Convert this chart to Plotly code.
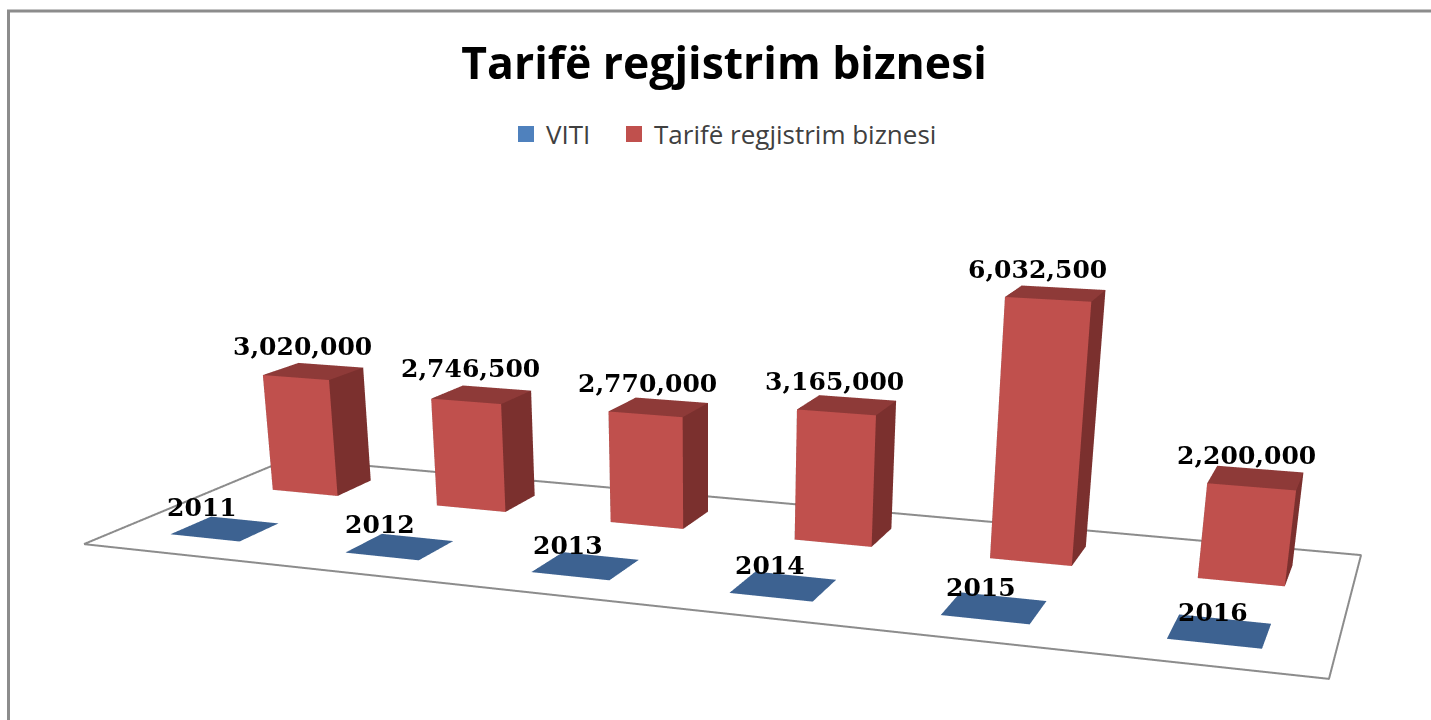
import plotly.graph_objects as go

# ---- data
years = [2011, 2012, 2013, 2014, 2015, 2016]
viti = [2011, 2012, 2013, 2014, 2015, 2016]
tarife = [3020000, 2746500, 2770000, 3165000, 6032500, 2200000]
title_text = "Tarifë regjistrim biznesi"
series_names = ["VITI", "Tarifë regjistrim biznesi"]

# ---- style and layout
ZMAX = 7000000
W, D = 0.40116, 0.37723            # bar width / depth within a category cell
H = 1700                           # tall scene: a longer lens; the page is clipped to the window
RED_FACES = ["#C0504D", "#8E3A38", "#7B302E"]   # front, top, sides
BLUE_FACES = ["#3D6291", "#3D6291", "#3D6291"]
FLOOR = "#8C8C8C"
bar_dx = [-28, -26, -24, -23, -26, -14]
bar_dy = [2, 3, 0, 0, 2, -3]
viti_dx = [-43, -37, -33, -25, -22, -12]
viti_dy = [-4, -4, -6, -6, -7, -10]
LABEL_FONT = dict(family="DejaVu Serif", size=25, color="black", weight="bold")
LEGEND_FONT = dict(family="Open Sans", size=26, color="#404040")


def cuboids(vals, row, cols, name):
    X, Y, Z, I, J, K, C = [], [], [], [], [], [], []
    faces = [((0, 1, 5), 0), ((0, 5, 4), 0), ((4, 5, 6), 1), ((4, 6, 7), 1), ((1, 2, 6), 2), ((1, 6, 5), 2),
             ((2, 3, 7), 2), ((2, 7, 6), 2), ((3, 0, 4), 2), ((3, 4, 7), 2), ((0, 1, 2), 2), ((0, 2, 3), 2)]
    for i, v in enumerate(vals):
        n = len(X)
        x0, x1 = i + .5 - W / 2, i + .5 + W / 2
        y0, y1 = row + .5 - D / 2, row + .5 + D / 2
        for zz in (0, v):
            for xx, yy in ((x0, y0), (x1, y0), (x1, y1), (x0, y1)):
                X.append(xx); Y.append(yy); Z.append(zz)
        for tri, col in faces:
            I.append(n + tri[0]); J.append(n + tri[1]); K.append(n + tri[2]); C.append(cols[col])
    return go.Mesh3d(x=X, y=Y, z=Z, i=I, j=J, k=K, facecolor=C, flatshading=True, showlegend=False,
                     hoverinfo="skip", name=name,
                     lighting=dict(ambient=1, diffuse=0, specular=0, fresnel=0, roughness=1))


fig = go.Figure()
fig.add_trace(cuboids(tarife, 1, RED_FACES, series_names[1]))
fig.add_trace(cuboids(viti, 0, BLUE_FACES, series_names[0]))
n = len(years)
fig.add_trace(go.Scatter3d(x=[0, n, n, 0, 0], y=[0, 0, 2, 2, 0], z=[0, 0, 0, 0, 0], mode="lines",
                           line=dict(color=FLOOR, width=4), showlegend=False, hoverinfo="skip"))
fig.add_trace(go.Scatter3d(x=[None], y=[None], z=[None], mode="markers", name=series_names[0],
                           marker=dict(symbol="square", size=16, color="#4F81BD")))
fig.add_trace(go.Scatter3d(x=[None], y=[None], z=[None], mode="markers", name=series_names[1], legend="legend2",
                           marker=dict(symbol="square", size=16, color="#C0504D")))

ann = []
for i, v in enumerate(tarife):
    ann.append(dict(x=i + .5, y=1.5 + D / 2, z=v, text=f"{v:,}", showarrow=False, font=LABEL_FONT,
                    yanchor="bottom", xshift=bar_dx[i], yshift=bar_dy[i]))
for i, v in enumerate(viti):
    ann.append(dict(x=i + .5, y=.5 + D / 2, z=v, text=str(v), showarrow=False, font=LABEL_FONT,
                    yanchor="bottom", xshift=viti_dx[i], yshift=viti_dy[i]))

hidden = dict(visible=False)
py = lambda p: 1 - p / H
fig.update_layout(
    width=1431, height=H, margin=dict(l=0, r=0, t=0, b=0), paper_bgcolor="white",
    title=dict(text=title_text, x=.506, xanchor="center", y=py(63), yanchor="middle",
               font=dict(family="Open Sans", size=44.5, color="black", weight="bold")),
    legend=dict(x=506 / 1431, xanchor="left", y=py(134), yanchor="middle", font=LEGEND_FONT),
    legend2=dict(x=614 / 1431, xanchor="left", y=py(134), yanchor="middle", font=LEGEND_FONT),
    scene=dict(
        domain=dict(x=[0, 1], y=[0, 1]), bgcolor="white",
        xaxis=dict(range=[0, n], **hidden), yaxis=dict(range=[0, 2], **hidden), zaxis=dict(range=[0, ZMAX], **hidden),
        aspectmode="manual", aspectratio=dict(x=1, y=0.32978, z=0.24086),
        camera=dict(eye=dict(x=0.55284, y=-1.55226, z=0.33507),
                    center=dict(x=0.13133, y=-0.37231, z=-0.21709),
                    up=dict(x=-0.05304, y=0.14271, z=1),
                    projection=dict(type="perspective")),
        annotations=ann),
    shapes=[dict(type="rect", xref="paper", yref="paper", x0=8.5 / 1431, x1=1.05, y0=-.1, y1=py(11),
                 line=dict(color=FLOOR, width=3))],
)
fig.write_html("out.html", config={"displayModeBar": False},
               post_script="document.documentElement.style.overflow='hidden';document.body.style.margin='0';"
                           "document.body.style.height='720px';document.body.style.overflow='hidden';")
